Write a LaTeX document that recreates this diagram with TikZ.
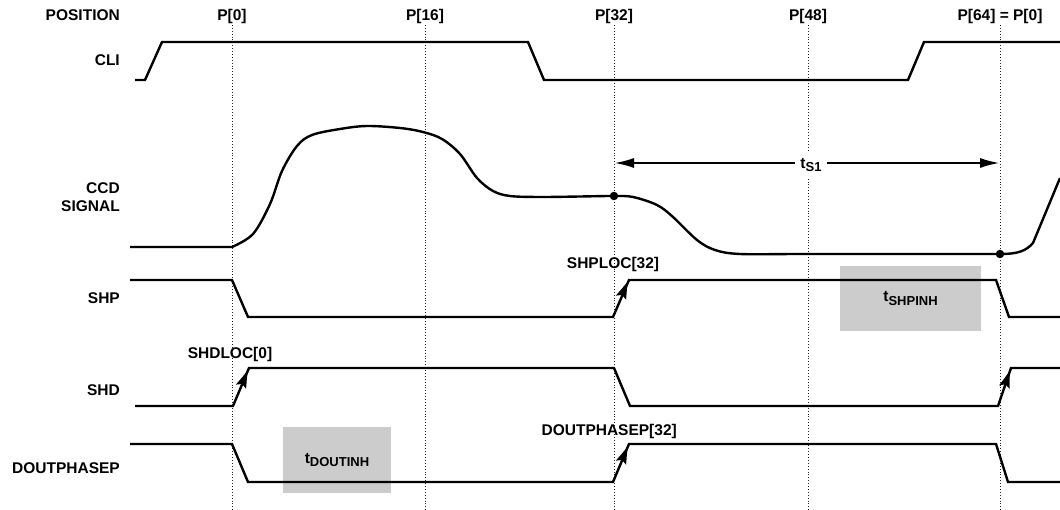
\documentclass[tikz,border=0pt]{standalone}
\usepackage{fontspec}
\setmainfont{Liberation Sans}
\usetikzlibrary{arrows.meta,calc}
\newcommand\tsubtxt[1]{t\raisebox{-3.5pt}{\fontsize{13}{13}\selectfont #1}}
\newcommand\headtri[2]{\fill ($(#2)!17pt!(#1)!5.5pt!90:(#2)$) -- (#2) -- ($(#2)!17pt!(#1)!5.5pt!-90:(#2)$) -- ($(#2)!14pt!(#1)$) -- cycle;}
\tikzset{
  lab/.style={font=\fontsize{15.5}{18}\selectfont\bfseries, inner sep=0pt},
  sig/.style={line width=2.4pt, line join=miter},
  gridline/.style={line width=0.9pt, dotted, black!85},
  inh/.style={fill=black!20, draw=none, inner sep=0pt, font=\fontsize{15.5}{18}\selectfont\bfseries},
  dimarrow/.style={line width=1.3pt, {Latex[length=19pt,width=10pt]}-{Latex[length=19pt,width=10pt]}},
  sdot/.style={circle, fill=black, inner sep=0pt, minimum size=8.5pt},
}
\begin{document}
\begin{tikzpicture}[x=1pt,y=-1pt]
\useasboundingbox (0,0) rectangle (1060,510);
% position labels
\node[lab, anchor=base east] (pos) at (120,20.5) {POSITION};
\node[lab, anchor=base] (p0) at (232,20.5) {P[0]};
\node[lab, anchor=base] (p16) at (425,20.5) {P[16]};
\node[lab, anchor=base] (p32) at (614,20.5) {P[32]};
\node[lab, anchor=base] (p48) at (808,20.5) {P[48]};
\node[lab, anchor=base] (p64) at (1000,20.5) {P[64] = P[0]};
% left labels
\node[lab, anchor=base east] (cli) at (120,66) {CLI};
\node[lab, anchor=east, align=right] (ccd) at (120,197) {CCD\\SIGNAL};
\node[lab, anchor=base east] (shp) at (120,303.5) {SHP};
\node[lab, anchor=base east] (shd) at (120,395.5) {SHD};
\node[lab, anchor=base east] (dout) at (120,473.5) {DOUTPHASEP};
% bottom ends of grid lines
\coordinate (b0) at (232,510);
\coordinate (b16) at (425,510);
\coordinate (b32) at (614,510);
\coordinate (b48) at (808,510);
\coordinate (b64) at (1000,510);
\draw[gridline] (232,25) -- (b0);
\draw[gridline] (425,25) -- (b16);
\draw[gridline] (614,25) -- (b32);
\draw[gridline] (808,25) -- (b48);
\draw[gridline] (1000,25) -- (b64);
% inhibit boxes
\node[inh, minimum width=141pt, minimum height=65pt] (shpinh) at (910.5,298.5) {\tsubtxt{SHPINH}};
\node[inh, minimum width=108pt, minimum height=66pt] (doutinh) at (337,460) {\tsubtxt{DOUTINH}};
% CLI
\draw[sig] (135,80) -- (145,80) -- (162,42) -- (528,42) -- (544,80) -- (908,80) -- (924,42) -- (1060,42);
% CCD signal
\draw[sig, line join=round] (130,247) -- plot[smooth, tension=0.55] coordinates {
 (232,247) (253,234) (270,204) (282,171) (297,146) (312,135)
 (340,129) (367,126) (400,128) (423,132) (442,139) (460,154) (477,178) (493,191)
 (510,196) (540,197) (580,196.5) (614,196) (633,197) (657,205) (673,217) (697,240)
 (715,250) (740,254) (800,254) (900,254) (1000,254)}
 .. controls (1018,254) and (1026,251) .. (1033,243) -- (1060,178);
\node[sdot] (d32) at (614,196) {};
\node[sdot] (d64) at (1000,254) {};
% t_S1
\coordinate (s1a) at (615,163);
\coordinate (s1b) at (999,163);
\draw[dimarrow] (s1a) -- (s1b);
\node[lab, fill=white, inner sep=5pt] (ts1) at (811,165) {\tsubtxt{S1}};
% SHP
\coordinate (shpA) at (613,317);
\coordinate (shpB) at (627.5,282);
\draw[sig] (130,280) -- (232,280) -- (248,317) -- (shpA) -- (629,280) -- (996,280) -- (1009,317) -- (1060,317);
\headtri{shpA}{shpB}
\node[lab, anchor=base] (shploc) at (613,268.5) {SHPLOC[32]};
% SHD
\coordinate (shdA) at (233,406);
\coordinate (shdB) at (247.5,371);
\coordinate (shdC) at (998,406);
\coordinate (shdD) at (1009.8,371);
\draw[sig] (135,406) -- (shdA) -- (249,368) -- (614,368) -- (630,406) -- (shdC) -- (1011,368) -- (1060,368);
\headtri{shdA}{shdB}
\headtri{shdC}{shdD}
\node[lab, anchor=base] (shdloc) at (230,358.5) {SHDLOC[0]};
% DOUTPHASEP
\coordinate (doA) at (613,482);
\coordinate (doB) at (627.5,447);
\draw[sig] (130,444) -- (232,444) -- (248,482) -- (doA) -- (629,444) -- (996,444) -- (1008,482) -- (1060,482);
\headtri{doA}{doB}
\node[lab, anchor=base east] (doutloc) at (677,435.5) {DOUTPHASEP[32]};
\end{tikzpicture}
\end{document}
